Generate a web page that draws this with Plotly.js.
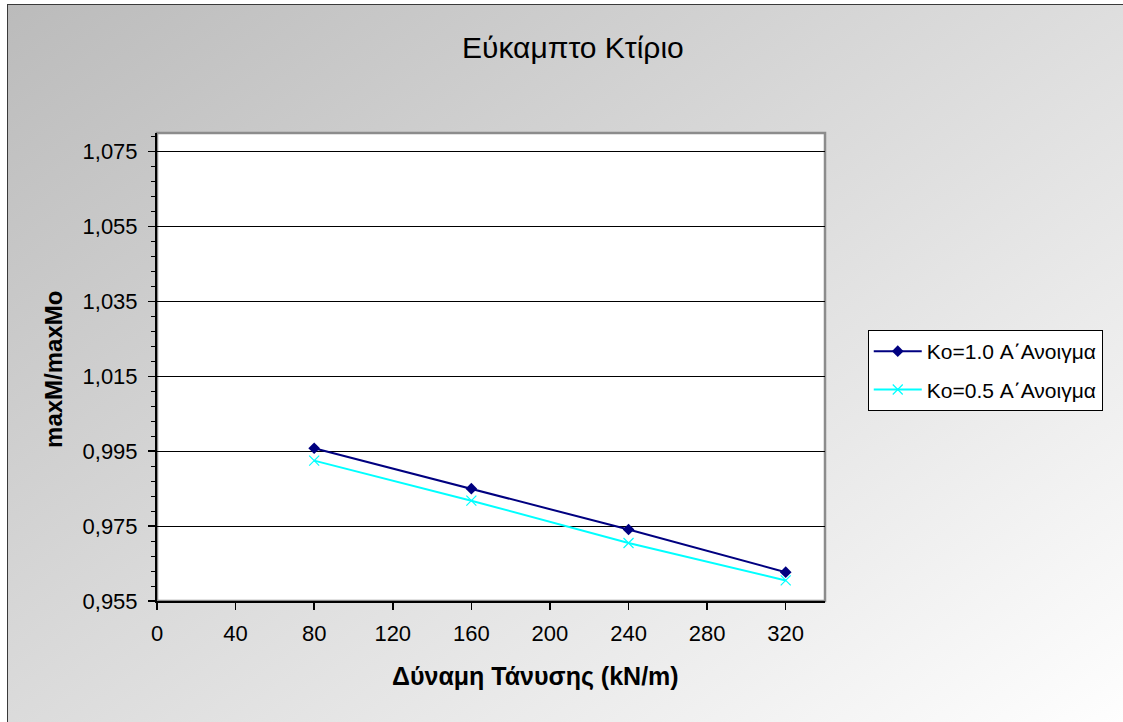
<!DOCTYPE html>
<html>
<head>
<meta charset="utf-8">
<script src="https://cdn.plot.ly/plotly-3.0.1.min.js"></script>
<style>
  html, body { margin: 0; padding: 0; background: #ffffff; }
  #wrap { position: relative; width: 1123px; height: 722px; overflow: hidden; }
  #frame {
    position: absolute; left: 7px; top: 4px; width: 1130px; height: 730px;
    border-left: 1px solid #3a3a3a; border-top: 1px solid #3a3a3a;
    background: linear-gradient(145deg, #bbbbbb 0%, #ffffff 100%);
  }
  #chart { position: absolute; left: 0; top: 0; width: 1123px; height: 722px; }
</style>
</head>
<body>
<div id="wrap">
  <div id="frame"></div>
  <div id="chart"></div>
</div>
<script>
// Tension force (kN/m) and the moment ratio maxM/maxMo for the flexible building
const loads = [80, 160, 240, 320];
const ratioKo10 = [0.9958, 0.9850, 0.9741, 0.9627];
const ratioKo05 = [0.9925, 0.9818, 0.9705, 0.9605];
const seriesNames = ['Ko=1.0 Α΄Ανοιγμα', 'Ko=0.5 Α΄Ανοιγμα'];
const chartTitle = 'Εύκαμπτο Κτίριο';
const xTitle = 'Δύναμη Τάνυσης (kN/m)';
const yTitle = 'maxM/maxMo';

const FONT = '"Liberation Sans", Arial, sans-serif';

const traces = [
  {
    x: loads, y: ratioKo10, name: seriesNames[0], legendgroup: 'a',
    type: 'scatter', mode: 'lines+markers',
    line: { color: '#000080', width: 2 },
    marker: { symbol: 'diamond', size: 9, color: '#000080' }
  },
  {
    x: loads, y: ratioKo05, name: seriesNames[1], legendgroup: 'b',
    type: 'scatter', mode: 'lines+markers',
    line: { color: '#00FFFF', width: 2 },
    marker: { symbol: 'x-thin', size: 10, color: '#00FFFF', line: { color: '#00FFFF', width: 1.2 } }
  }
];

const layout = {
  width: 1123, height: 722,
  margin: { l: 157, r: 298, t: 133, b: 121, pad: 0 },
  paper_bgcolor: 'rgba(0,0,0,0)',
  plot_bgcolor: '#ffffff',
  separators: ',.',
  font: { family: FONT, color: '#000000', size: 22 },
  showlegend: true,
  legend: {
    x: 1.064, y: 0.579, xanchor: 'left', yanchor: 'top',
    bgcolor: '#ffffff', bordercolor: '#000000', borderwidth: 1,
    font: { family: FONT, size: 21, color: '#000000' },
    traceorder: 'grouped', tracegroupgap: 8, itemwidth: 48
  },
  xaxis: {
    range: [0, 340], tick0: 0, dtick: 40,
    showgrid: false, zeroline: false,
    showline: true, linecolor: '#000000', linewidth: 2,
    ticks: 'outside', ticklen: 7, tickwidth: 1.5, tickcolor: '#000000',
    tickfont: { family: FONT, size: 22, color: '#000000' },
    ticklabelstandoff: 5
  },
  yaxis: {
    range: [0.955, 1.08], tick0: 0.955, dtick: 0.02, tickformat: '.3f',
    showgrid: true, gridcolor: '#000000', gridwidth: 1,
    zeroline: false,
    showline: true, linecolor: '#000000', linewidth: 2,
    ticks: 'outside', ticklen: 7, tickwidth: 1.5, tickcolor: '#000000',
    minor: { dtick: 0.004, tick0: 0.955, ticks: 'outside', ticklen: 4, tickwidth: 1, tickcolor: '#000000', showgrid: false },
    tickfont: { family: FONT, size: 22, color: '#000000' },
    ticklabelstandoff: 6
  },
  shapes: [
    {
      type: 'rect', xref: 'paper', yref: 'paper', x0: 0, x1: 1, y0: 0, y1: 1,
      line: { color: '#8c8c8c', width: 2.5 }, fillcolor: 'rgba(0,0,0,0)', layer: 'below'
    }
  ],
  annotations: [
    {
      text: chartTitle, xref: 'paper', yref: 'paper', x: 0.623, y: 1.182,
      xanchor: 'center', yanchor: 'middle', showarrow: false,
      font: { family: FONT, size: 30, color: '#000000' }
    },
    {
      text: '<b>' + xTitle + '</b>', xref: 'paper', yref: 'paper', x: 0.567, y: -0.162,
      xanchor: 'center', yanchor: 'middle', showarrow: false,
      font: { family: FONT, size: 25, color: '#000000' }
    },
    {
      text: '<b>' + yTitle + '</b>', xref: 'paper', yref: 'paper', x: -0.154, y: 0.494,
      xanchor: 'center', yanchor: 'middle', showarrow: false, textangle: -90,
      font: { family: FONT, size: 24, color: '#000000' }
    }
  ]
};

Plotly.newPlot('chart', traces, layout, { displayModeBar: false, staticPlot: true });
</script>
</body>
</html>
